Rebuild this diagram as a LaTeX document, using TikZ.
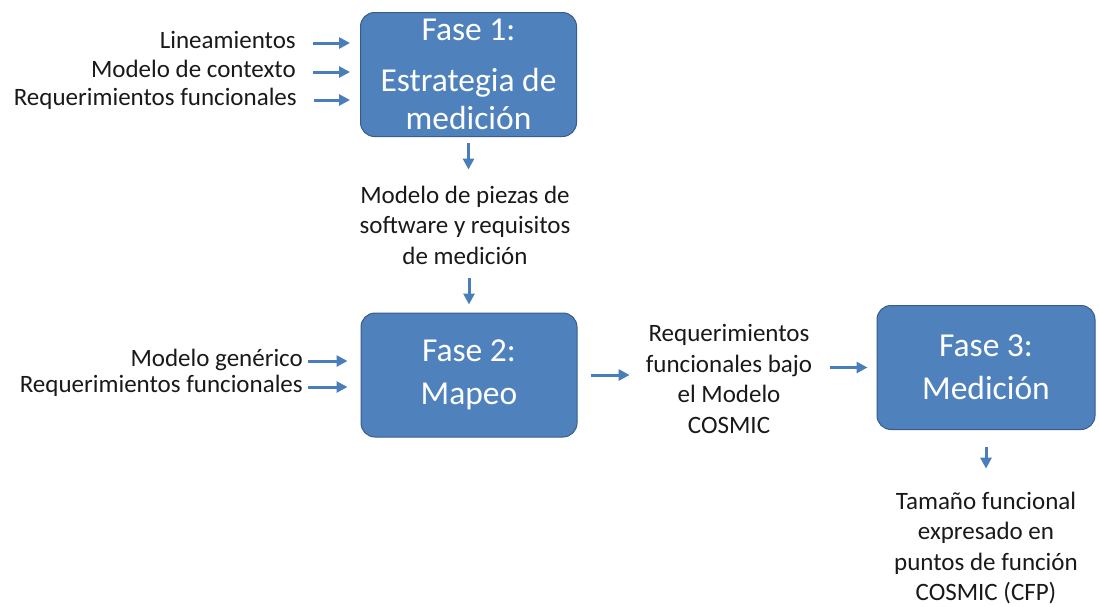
\documentclass[tikz,border=0pt]{standalone}
\usepackage{fontspec}
\setmainfont{Carlito}
\usetikzlibrary{arrows.meta}
\begin{document}
\begin{tikzpicture}[x=1pt,y=-1pt,
  fase/.style={draw=faseedge,line width=1pt,fill=faseblue,rounded corners=14pt,
    text=white,minimum width=216pt,minimum height=124pt,inner sep=0pt,
    align=center,font=\fontsize{33.5}{38}\selectfont},
  etiq/.style={text=textgray,align=center,inner sep=0pt,font=\fontsize{25}{30.5}\selectfont},
  entrada/.style={etiq,anchor=east,text height=14pt,text depth=4pt},
  flecha/.style={draw=flechablue,line width=3pt,-{Triangle[length=11pt,width=11pt]}}]
  % \clip (0,0) rectangle (1099,606);
  \useasboundingbox (0,0) rectangle (1099,606);

  % Changing colors
  \definecolor{faseblue}{RGB}{79,129,189}%
  \definecolor{faseedge}{RGB}{56,93,138}%
  \definecolor{flechablue}{RGB}{74,126,187}%
  \definecolor{textgray}{RGB}{25,25,25}%

  % Drawing boxes Fase 1, 2, 3
  \node[fase] (f1) at (468.5,74.5) {Fase 1:\\[13pt]Estrategia de\\medición};
  \node[fase] (f2) at (469,375) {Fase 2:\\[5pt]Mapeo};
  \node[fase,minimum width=218pt] (f3) at (986,367.5) {Fase 3:\\[5pt]Medición};

  % Marking inputs of Fase 1
  \node[entrada] (lin) at (296,43) {Lineamientos};
  \node[entrada] (ctx) at (296,72) {Modelo de contexto};
  \node[entrada] (rqa) at (297,100) {Requerimientos funcionales};
  \foreach \n in {lin,ctx,rqa}
    \draw[flecha,shorten <=17pt,shorten >=10pt] (\n.east) -- (\n.east -| f1.west);

  % Marking inputs of Fase 2
  \node[entrada] (gen) at (303,361) {Modelo genérico};
  \node[entrada] (rqb) at (303,387) {Requerimientos funcionales};
  \foreach \n in {gen,rqb}
    \draw[flecha,shorten <=5pt,shorten >=13pt] (\n.east) -- (\n.east -| f2.west);

  % Marking outputs
  \node[etiq] (pzs) at (465,225) {Modelo de piezas de\\software y requisitos\\de medición};
  \node[etiq] (cos) at (729,379) {Requerimientos\\funcionales bajo\\el Modelo\\COSMIC};
  \node[etiq] (cfp) at (986,548) {Tamaño funcional\\expresado en\\puntos de función\\COSMIC (CFP)};

  % Drawing arrows between phases
  \draw[flecha,shorten <=6pt,shorten >=16pt] (f1.south) -- (f1.south |- pzs.north);
  \draw[flecha,shorten <=14pt,shorten >=8pt] (f2.north |- pzs.south) -- (f2.north);
  \draw[flecha,shorten <=13pt,shorten >=16pt] (f2.east) -- (f2.east -| cos.west);
  \draw[flecha,shorten <=18pt,shorten >=9pt] (f3.west -| cos.east) -- (f3.west);
  \draw[flecha,shorten <=17pt,shorten >=23pt] (f3.south) -- (f3.south |- cfp.north);
\end{tikzpicture}
\end{document}
